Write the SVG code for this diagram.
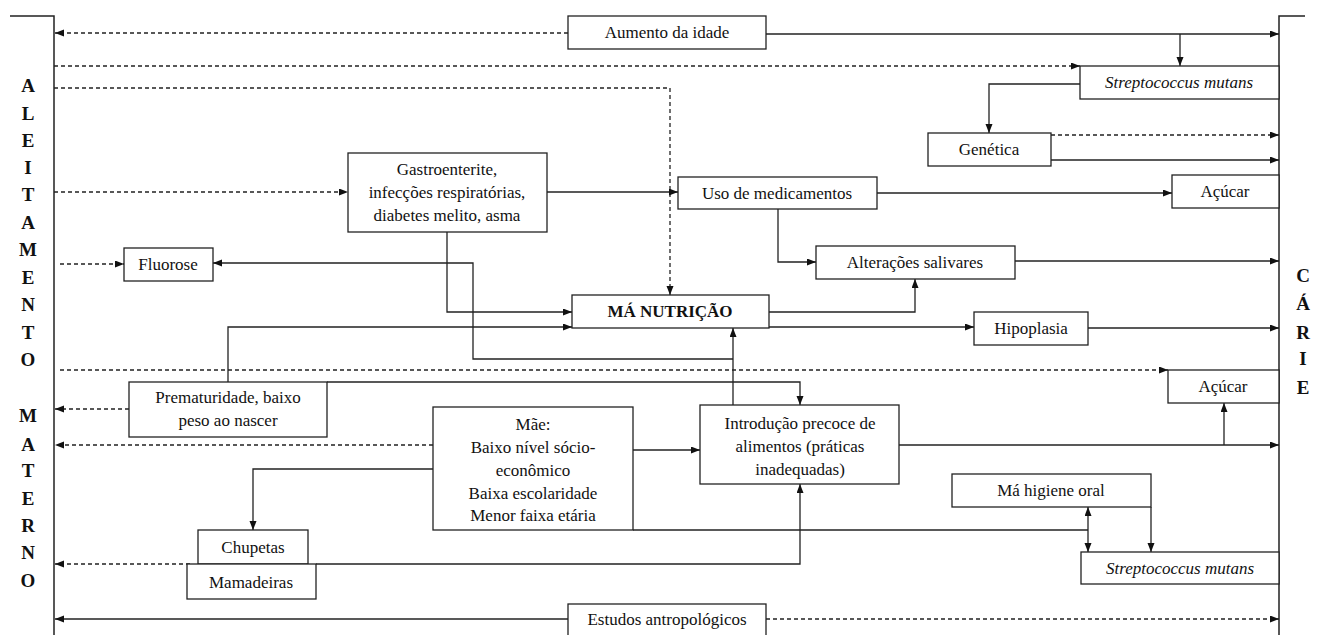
<svg xmlns="http://www.w3.org/2000/svg" width="1317" height="635" viewBox="0 0 1317 635">
<defs>
<marker id="ah" markerUnits="userSpaceOnUse" markerWidth="10" markerHeight="8" refX="9" refY="3.5" orient="auto-start-reverse"><path d="M0,0 L9,3.5 L0,7 z" fill="#111"/></marker>
<style>
.box{fill:#fff;stroke:#222;stroke-width:1.3}
.t{font-size:17px;fill:#111;text-anchor:middle}
.i{font-style:italic}
.b{font-weight:bold}
.side{font-size:19px;font-weight:bold;fill:#111;text-anchor:middle}
.c{fill:none;stroke:#222;stroke-width:1.3}
.d{stroke-dasharray:4 3}
.a{marker-end:url(#ah)}
.brk{fill:none;stroke:#222;stroke-width:1.5}
</style>
</defs>
<rect width="1317" height="635" fill="#fff"/>

<g id="brackets">
<path class="brk" d="M10,16 L54,16 L54,635"/>
<path class="brk" d="M1305,16 L1279,16 L1279,635"/>
</g>

<g font-family="Liberation Serif, Times New Roman, serif">
<g id="aleitamento">
<text class="side" x="28" y="92">A</text>
<text class="side" x="28" y="120">L</text>
<text class="side" x="28" y="147">E</text>
<text class="side" x="28" y="174">I</text>
<text class="side" x="28" y="201">T</text>
<text class="side" x="28" y="229">A</text>
<text class="side" x="28" y="256">M</text>
<text class="side" x="28" y="284">E</text>
<text class="side" x="28" y="311">N</text>
<text class="side" x="28" y="339">T</text>
<text class="side" x="28" y="366">O</text>
<text class="side" x="28" y="422">M</text>
<text class="side" x="28" y="451">A</text>
<text class="side" x="28" y="477">T</text>
<text class="side" x="28" y="505">E</text>
<text class="side" x="28" y="532">R</text>
<text class="side" x="28" y="559">N</text>
<text class="side" x="28" y="587">O</text>
</g>

<g id="carie">
<text class="side" x="1303" y="282">C</text>
<text class="side" x="1303" y="310">Á</text>
<text class="side" x="1303" y="339">R</text>
<text class="side" x="1303" y="365">I</text>
<text class="side" x="1303" y="394">E</text>
</g>
</g>

<g id="connectors">
<path class="c d a" d="M568,33 L55,33"/>
<path class="c a" d="M766,34 L1279,34"/>
<path class="c a" d="M1180,34 L1180,66"/>
<path class="c d a" d="M54,66 L1080,66"/>
<path class="c a" d="M1080,84 L989,84 L989,133"/>
<path class="c d a" d="M1051,135 L1279,135"/>
<path class="c a" d="M1051,160 L1279,160"/>
<path class="c d a" d="M54,88 L670,88 L670,295"/>
<path class="c d a" d="M54,192 L348,192"/>
<path class="c a" d="M547,192 L678,192"/>
<path class="c a" d="M778,209 L778,262 L816,262"/>
<path class="c a" d="M877,193 L1172,193"/>
<path class="c a" d="M1015,261 L1279,261"/>
<path class="c d a" d="M60,264 L124,264"/>
<path class="c a" d="M733,359 L473,359 L473,263 L213,263"/>
<path class="c a" d="M733,405 L733,328"/>
<path class="c a" d="M447,232 L447,312 L572,312"/>
<path class="c a" d="M228,382 L228,327 L572,327"/>
<path class="c a" d="M769,312 L915,312 L915,279"/>
<path class="c a" d="M769,327 L974,327"/>
<path class="c a" d="M1088,328 L1279,328"/>
<path class="c d a" d="M60,370 L1168,370"/>
<path class="c a" d="M327,382 L800,382 L800,405"/>
<path class="c d a" d="M129,409 L55,409"/>
<path class="c d a" d="M433,445 L55,445"/>
<path class="c a" d="M433,469 L253,469 L253,530"/>
<path class="c a" d="M633,450 L700,450"/>
<path class="c a" d="M899,445 L1279,445"/>
<path class="c a" d="M1224,445 L1224,403"/>
<path class="c d a" d="M190,564 L55,564"/>
<path class="c a" d="M316,564 L800,564 L800,484"/>
<path class="c" d="M633,530 L1088,530"/>
<path class="c a" d="M1088,507 L1088,552" marker-start="url(#ah)"/>
<path class="c a" d="M1151,507 L1151,552"/>
<path class="c a" d="M568,619 L55,619"/>
<path class="c d a" d="M766,619 L1279,619"/>
</g>

<g font-family="Liberation Serif, Times New Roman, serif">
<g id="aumento"><rect class="box" x="568" y="16" width="198" height="33"/><text class="t" x="667" y="38">Aumento  da idade</text></g>
<g id="strep1"><rect class="box" x="1080" y="66" width="199" height="33"/><text class="t i" x="1179" y="88">Streptococcus mutans</text></g>
<g id="genetica"><rect class="box" x="928" y="133" width="123" height="33"/><text class="t" x="989" y="155">Genética</text></g>
<g id="gastro"><rect class="box" x="348" y="153" width="199" height="79"/>
<text class="t" x="447" y="175">Gastroenterite,</text>
<text class="t" x="447" y="198">infecções  respiratórias,</text>
<text class="t" x="447" y="221">diabetes melito,  asma</text></g>
<g id="uso"><rect class="box" x="678" y="177" width="199" height="32"/><text class="t" x="777" y="199">Uso de medicamentos</text></g>
<g id="acucar1"><rect class="box" x="1172" y="175" width="107" height="33"/><text class="t" x="1225" y="197">Açúcar</text></g>
<g id="alteracoes"><rect class="box" x="816" y="246" width="199" height="33"/><text class="t" x="915" y="268">Alterações  salivares</text></g>
<g id="fluorose"><rect class="box" x="124" y="248" width="89" height="33"/><text class="t" x="168" y="270">Fluorose</text></g>
<g id="manutricao"><rect class="box" x="572" y="295" width="197" height="33"/><text class="t b" x="670" y="317">MÁ NUTRIÇÃO</text></g>
<g id="hipoplasia"><rect class="box" x="974" y="312" width="114" height="33"/><text class="t" x="1031" y="334">Hipoplasia</text></g>
<g id="acucar2"><rect class="box" x="1168" y="370" width="111" height="33"/><text class="t" x="1223" y="392">Açúcar</text></g>
<g id="prematuridade"><rect class="box" x="129" y="382" width="198" height="55"/>
<text class="t" x="228" y="403">Prematuridade,  baixo</text>
<text class="t" x="228" y="426">peso ao nascer</text></g>
<g id="mae"><rect class="box" x="433" y="407" width="200" height="123"/>
<text class="t" x="533" y="430">Mãe:</text>
<text class="t" x="533" y="453">Baixo nível  sócio-</text>
<text class="t" x="533" y="476">econômico</text>
<text class="t" x="533" y="499">Baixa  escolaridade</text>
<text class="t" x="533" y="521">Menor faixa  etária</text></g>
<g id="introducao"><rect class="box" x="700" y="405" width="199" height="79"/>
<text class="t" x="800" y="429">Introdução  precoce de</text>
<text class="t" x="800" y="452">alimentos  (práticas</text>
<text class="t" x="800" y="475">inadequadas)</text></g>
<g id="higiene"><rect class="box" x="952" y="474" width="199" height="33"/><text class="t" x="1051" y="496">Má higiene  oral</text></g>
<g id="strep2"><rect class="box" x="1081" y="552" width="198" height="32"/><text class="t i" x="1180" y="574">Streptococcus mutans</text></g>
<g id="chupetas"><rect class="box" x="198" y="530" width="110" height="34"/><text class="t" x="253" y="553">Chupetas</text></g>
<g id="mamadeiras"><rect class="box" x="187" y="564" width="129" height="35"/><text class="t" x="251" y="588">Mamadeiras</text></g>
<g id="estudos"><rect class="box" x="568" y="604" width="198" height="33"/><text class="t" x="667" y="625">Estudos  antropológicos</text></g>
</g>
</svg>
